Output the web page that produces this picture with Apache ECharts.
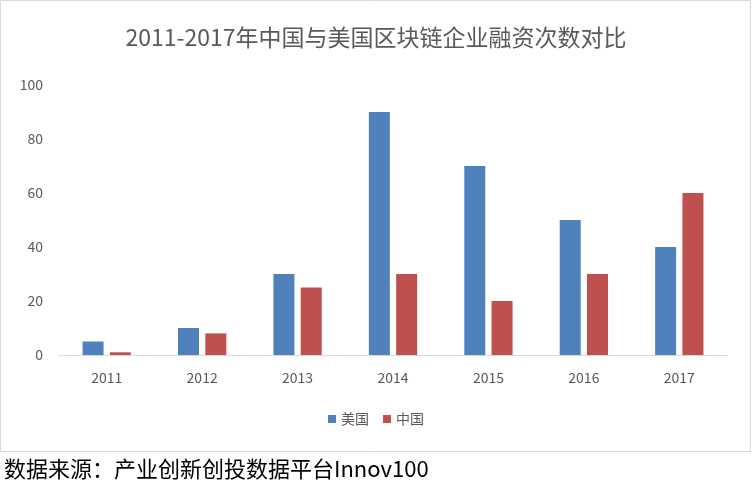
<!DOCTYPE html>
<html><head><meta charset="utf-8">
<script src="https://cdn.jsdelivr.net/npm/echarts@6/dist/echarts.min.js"></script>
<style>html,body{margin:0;padding:0;background:#fff}#c{width:752px;height:497px}</style>
</head><body><div id="c"></div>
<script>
const categories=['2011','2012','2013','2014','2015','2016','2017'];
const usValues=[5,10,30,90,70,50,40];
const cnValues=[1,8,25,30,20,30,60];
const yTicks=[0,20,40,60,80,100];
const chart=echarts.init(document.getElementById('c'));
const F='"Noto Sans CJK SC","Noto Sans",sans-serif';
chart.setOption({
  animation:false,
  title:{text:'2011-2017年中国与美国区块链企业融资次数对比',left:'center',top:21,textStyle:{fontFamily:F,fontSize:23,fontWeight:'normal',color:'#595959'}},
  legend:{bottom:66,itemWidth:8,itemHeight:8,itemGap:14,icon:'rect',textStyle:{fontFamily:F,fontSize:14,color:'#595959'}},
  grid:{left:59,right:25,top:85,bottom:142},
  xAxis:{type:'category',data:categories,axisTick:{show:false},axisLine:{lineStyle:{color:'#d9d9d9'}},axisLabel:{fontFamily:F,fontSize:14,color:'#595959',margin:16}},
  yAxis:{type:'value',min:0,max:100,interval:20,splitLine:{show:false},axisLine:{show:false},axisLabel:{fontFamily:F,fontSize:14,color:'#595959',margin:16,formatter:v=>yTicks.includes(v)?String(v):''}},
  series:[
    {name:'美国',type:'bar',data:usValues,barWidth:21,barGap:'30%',itemStyle:{color:'#4f81bd'}},
    {name:'中国',type:'bar',data:cnValues,barWidth:21,itemStyle:{color:'#c0504d'}}
  ],
  graphic:[
    {type:'rect',shape:{x:0.5,y:0.5,width:750,height:451},style:{fill:'none',stroke:'#d9d9d9',lineWidth:1}},
    {type:'text',left:4,top:458,style:{text:'数据来源：产业创新创投数据平台Innov100',font:'22px '+F,fill:'#000'}}
  ]
});
</script></body></html>
